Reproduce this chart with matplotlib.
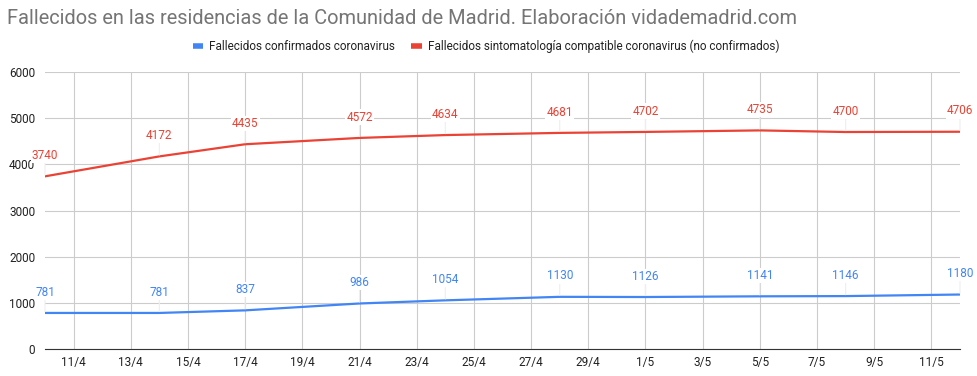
import datetime as dt

import matplotlib

matplotlib.use("Agg")
import matplotlib.dates as mdates
import matplotlib.pyplot as plt
from matplotlib.lines import Line2D

plt.rcParams["font.family"] = ["Roboto", "DejaVu Sans"]

# values (2020)
dates = ["10/4", "14/4", "17/4", "21/4", "24/4", "28/4", "1/5", "5/5", "8/5", "12/5"]
confirmados = [781, 781, 837, 986, 1054, 1130, 1126, 1141, 1146, 1180]
compatibles = [3740, 4172, 4435, 4572, 4634, 4681, 4702, 4735, 4700, 4706]

series_names = [
    "Fallecidos confirmados coronavirus",
    "Fallecidos sintomatología compatible coronavirus (no confirmados)",
]
title = "Fallecidos en las residencias de la Comunidad de Madrid. Elaboración vidademadrid.com"

BLUE = "#4285F4"
RED = "#EA4335"


def to_date(s):
    d, m = s.split("/")
    return dt.date(2020, int(m), int(d))


x = [to_date(s) for s in dates]

fig = plt.figure(figsize=(9.77, 3.76), dpi=100)
ax = fig.add_axes([45 / 977, 27 / 376, 915 / 977, 277 / 376])

for values, color in [(confirmados, BLUE), (compatibles, RED)]:
    ax.plot(x, values, color=color, linewidth=1.6, zorder=3)
    for xi, v in zip(x, values):
        ax.annotate(
            str(v), xy=(xi, v), xytext=(0, 15), textcoords="offset points",
            ha="center", va="center", fontsize=8.5, color=color,
            bbox=dict(boxstyle="square,pad=0.1", fc="white", ec="none"),
            arrowprops=dict(arrowstyle="-", color="#eeeeee", lw=0.8, shrinkA=0, shrinkB=1),
            annotation_clip=False, zorder=4,
        )

ax.set_xlim(to_date("10/4"), to_date("12/5"))
ax.set_ylim(0, 6000)
ax.set_yticks(range(0, 6001, 1000))
ax.set_xticks([to_date("11/4") + dt.timedelta(days=2 * i) for i in range(16)])
ax.xaxis.set_major_formatter(matplotlib.ticker.FuncFormatter(
    lambda v, _: f"{mdates.num2date(v).day}/{mdates.num2date(v).month}"))

ax.grid(True, color="#cccccc", linewidth=0.8)
ax.set_axisbelow(True)
for side in ["top", "right", "left"]:
    ax.spines[side].set_visible(False)
ax.spines["bottom"].set_color("#333333")
ax.tick_params(length=0, labelsize=8.5, labelcolor="#222222")
ax.tick_params(axis="y", pad=7)
ax.tick_params(axis="x", pad=5)

fig.text(7 / 977, 1 - 18 / 376, title, fontsize=14.4, color="#757575", va="center", ha="left")

handles = [
    Line2D([], [], color=BLUE, linewidth=4, solid_capstyle="butt"),
    Line2D([], [], color=RED, linewidth=4, solid_capstyle="butt"),
]
fig.legend(handles, series_names, loc="center", bbox_to_anchor=(486 / 977, 1 - 46 / 376),
           ncol=2, frameon=False, fontsize=8.5, handlelength=0.9, handletextpad=0.5,
           columnspacing=1.4, labelcolor="#222222")

fig.savefig("out.png", dpi=100)
